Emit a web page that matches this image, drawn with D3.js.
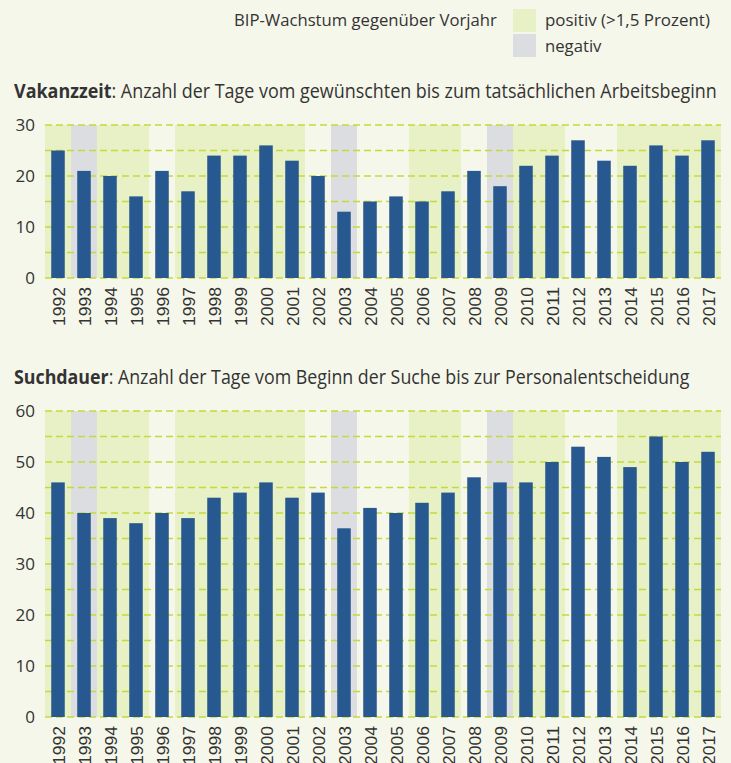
<!DOCTYPE html>
<html>
<head>
<meta charset="utf-8">
<script src="https://d3js.org/d3.v7.min.js"></script>
<style>
  body { margin: 0; background: #f5f7ea; }
  svg { display: block; }
</style>
</head>
<body>
<div class="wrapper"></div>
<script>
// data
var years = ["1992","1993","1994","1995","1996","1997","1998","1999","2000","2001","2002","2003","2004",
             "2005","2006","2007","2008","2009","2010","2011","2012","2013","2014","2015","2016","2017"];
// BIP-Wachstum: pos = positiv (>1,5 Prozent), neg = negativ, "" = dazwischen
var bip = ["pos","neg","pos","pos","","pos","pos","pos","pos","pos","","neg","",
           "","pos","pos","","neg","pos","pos","","","pos","pos","pos","pos"];
var vakanzzeit = [25,21,20,16,21,17,24,24,26,23,20,13,15,16,15,17,21,18,22,24,27,23,22,26,24,27];
var suchdauer  = [46,40,39,38,40,39,43,44,46,43,44,37,41,40,42,44,47,46,46,50,53,51,49,55,50,52];
var vakTicks = [0,10,20,30];
var suchTicks = [0,10,20,30,40,50,60];

var colors = {pos: "#e8f0c5", neg: "#dcdde0", bar: "#27588f", grid: "#c3da3a", text: "#333333"};

var width = 731, height = 763;
var left = 45, right = 721;

var svg = d3.select(".wrapper")
  .append("svg")
    .attr("width", width)
    .attr("height", height);

// squeeze a text element horizontally to the measured width of the original
function fitWidth(sel, x, w) {
  var bw = sel.node().getBBox().width;
  var s = w / bw;
  sel.attr("transform", "translate(" + x + ",0) scale(" + s + ",1) translate(" + (-x) + ",0)");
}

// ---> legend
var leg = svg.append("g").style("font-family", "'Open Sans', sans-serif").style("fill", colors.text);
var t1 = leg.append("text").attr("x", 234).attr("y", 26).style("font-size", "17px").text("BIP-Wachstum gegenüber Vorjahr");
fitWidth(t1, 234, 263);
leg.append("rect").attr("x", 513).attr("y", 9).attr("width", 23).attr("height", 23).attr("fill", colors.pos);
leg.append("rect").attr("x", 513).attr("y", 34).attr("width", 23).attr("height", 23).attr("fill", colors.neg);
var t2 = leg.append("text").attr("x", 545).attr("y", 26).style("font-size", "17px").text("positiv (>1,5 Prozent)");
fitWidth(t2, 545, 165);
var t3 = leg.append("text").attr("x", 545).attr("y", 52).style("font-size", "17px").text("negativ");
fitWidth(t3, 545, 57);

// ---> one bar chart
function drawChart(cfg) {
  var g = svg.append("g");

  var title = g.append("text")
    .attr("x", 14).attr("y", cfg.titleY)
    .style("font-family", "'Open Sans', sans-serif")
    .style("font-size", "20px")
    .style("fill", colors.text);
  title.append("tspan").style("font-weight", "bold").text(cfg.bold);
  title.append("tspan").text(cfg.rest);
  fitWidth(title, 14, cfg.titleW);

  var x = d3.scaleBand().domain(years).range([left, right]).padding(0);
  var xBar = d3.scaleBand().domain(years).range([left, right]).paddingInner(0.48).paddingOuter(0.24);
  var y = d3.scaleLinear().domain([0, cfg.max]).range([cfg.bottom, cfg.top]);

  // background bands
  g.selectAll("rect.band")
    .data(years.filter(function(d, i) { return bip[i] != ""; }))
    .enter().append("rect")
      .attr("class", "band")
      .attr("x", function(d) { return x(d); })
      .attr("y", y(cfg.max))
      .attr("width", x.bandwidth())
      .attr("height", y(0) - y(cfg.max))
      .attr("fill", function(d) { return colors[bip[years.indexOf(d)]]; });

  // dashed gridlines every 5
  g.selectAll("line.grid")
    .data(d3.range(0, cfg.max + 1, 5))
    .enter().append("line")
      .attr("x1", left).attr("x2", right)
      .attr("y1", function(d) { return y(d); })
      .attr("y2", function(d) { return y(d); })
      .attr("stroke", colors.grid)
      .attr("stroke-width", 1.5)
      .attr("stroke-dasharray", "7,4");

  // bars
  g.selectAll("rect.bar")
    .data(cfg.values)
    .enter().append("rect")
      .attr("class", "bar")
      .attr("x", function(d, i) { return xBar(years[i]); })
      .attr("y", function(d) { return y(d); })
      .attr("width", xBar.bandwidth())
      .attr("height", function(d) { return y(0) - y(d); })
      .attr("fill", colors.bar);

  // y axis labels
  var yAxis = g.append("g")
    .attr("transform", "translate(" + left + ",0)")
    .call(d3.axisLeft(y).tickValues(cfg.ticks).tickSize(0).tickPadding(10));
  yAxis.select(".domain").remove();
  yAxis.selectAll("text")
    .style("font-family", "'Open Sans', sans-serif")
    .style("font-size", "17px")
    .style("fill", colors.text);

  // year labels, rotated
  g.selectAll("text.year")
    .data(years)
    .enter().append("text")
      .attr("class", "year")
      .attr("transform", function(d) {
        return "translate(" + (x(d) + x.bandwidth() / 2 + 1) + "," + (cfg.bottom + 9) + ") rotate(-90)";
      })
      .attr("dy", "0.36em")
      .attr("text-anchor", "end")
      .attr("textLength", 39)
      .attr("lengthAdjust", "spacingAndGlyphs")
      .style("font-family", "'Liberation Sans', Arial, sans-serif")
      .style("font-size", "16.5px")
      .style("fill", colors.text)
      .text(function(d) { return d; });
}

drawChart({
  bold: "Vakanzzeit", rest: ": Anzahl der Tage vom gewünschten bis zum tatsächlichen Arbeitsbeginn",
  titleY: 98, titleW: 703,
  values: vakanzzeit, ticks: vakTicks, max: 30, top: 125, bottom: 278
});

drawChart({
  bold: "Suchdauer", rest: ": Anzahl der Tage vom Beginn der Suche bis zur Personalentscheidung",
  titleY: 384, titleW: 676,
  values: suchdauer, ticks: suchTicks, max: 60, top: 411, bottom: 717
});
</script>
</body>
</html>
